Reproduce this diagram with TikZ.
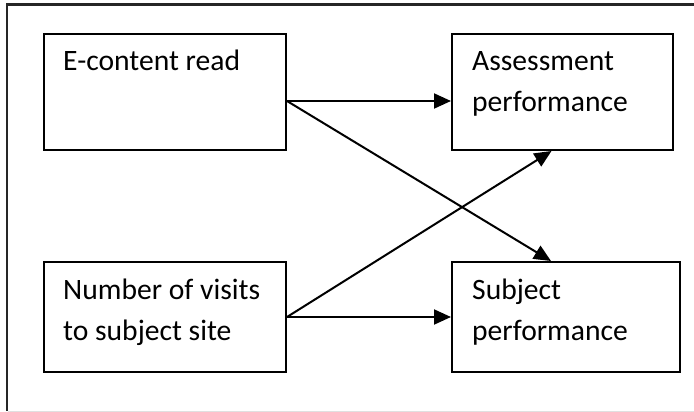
\documentclass[tikz,border=0pt]{standalone}
\usepackage{fontspec}
\setmainfont{Carlito}
\usetikzlibrary{arrows.meta}
\tikzset{
  box/.style={draw=black, line width=2pt, inner sep=0pt, anchor=north west},
  lbl/.style={anchor=base west, inner sep=0pt, align=left, font=\fontsize{29.6pt}{41pt}\selectfont},
  conn/.style={line width=2pt, -{Triangle[length=17pt,width=15pt]}},
  frame/.style={line width=2.2pt, draw=black!85}
}
\begin{document}
\begin{tikzpicture}[x=1pt,y=-1pt]
\useasboundingbox (0,0) rectangle (694,412);
\fill[white] (0,0) rectangle (694,412);
% outer frame (cropped)
\draw[frame] (694,4.5) -- (7,4.5) -- (7,411);
\draw[line width=1pt, draw=black!12] (8,411) -- (694,411);
% boxes
\node[box, minimum width=242pt, minimum height=116pt] (e) at (43,33) {};
\node[box, minimum width=221pt, minimum height=116pt] (a) at (451,33) {};
\node[box, minimum width=242pt, minimum height=110pt] (n) at (43,261) {};
\node[box, minimum width=228pt, minimum height=110pt] (s) at (451,261) {};
% texts (base anchor = baseline of last line)
\node[lbl] (te) at (63,71) {E-content read};
\node[lbl] (ta) at (472,112) {Assessment\\performance};
\node[lbl] (tn) at (63,340) {Number of visits\\to subject site};
\node[lbl] (ts) at (472,340) {Subject\\performance};
% connectors
\coordinate (eout) at ([yshift=-9pt]e.east);
\draw[conn] (eout) -- (eout -| a.west);
\draw[conn] (eout) -- ([xshift=-15pt]s.north);
\draw[conn] (n.east) -- ([xshift=-11pt]a.south);
\draw[conn] (n.east) -- (n.east -| s.west);
\end{tikzpicture}
\end{document}
